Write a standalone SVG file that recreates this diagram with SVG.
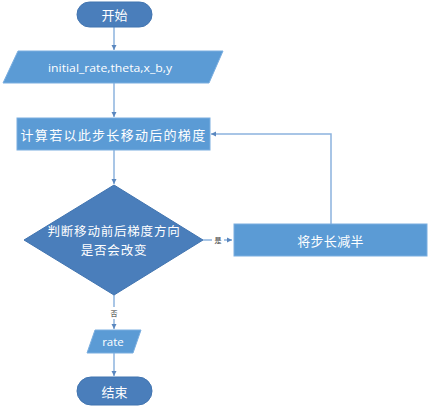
<svg xmlns="http://www.w3.org/2000/svg" width="431" height="409" viewBox="0 0 431 409">
<style>
.dark{fill:#4a7ebb;stroke:#4174b0;stroke-width:1}
.light{fill:#5b9bd5;stroke:#7aaee0;stroke-width:1}
.t{font-family:"Noto Sans CJK SC","Liberation Sans",sans-serif;fill:#ffffff;text-anchor:middle;dominant-baseline:central}
.lat{font-family:"Open Sans","Liberation Sans",sans-serif;fill:#ffffff;text-anchor:middle;dominant-baseline:central}
.c{fill:none;stroke:#8cb3de;stroke-width:1.5}
.lbl{font-family:"Noto Sans CJK SC",sans-serif;font-size:7px;fill:#333333;text-anchor:middle;dominant-baseline:central}
</style>
<defs>
<marker id="ah" markerWidth="6" markerHeight="6" refX="5" refY="3" orient="auto" markerUnits="userSpaceOnUse">
<path d="M0,0.5 L5,3 L0,5.5 z" fill="#5a87bf"/>
</marker>
</defs>
<rect width="431" height="409" fill="#ffffff"/>
<g id="connectors">
<line class="c" x1="114" y1="27" x2="114" y2="50" marker-end="url(#ah)"/>
<line class="c" x1="114" y1="83" x2="114" y2="117" marker-end="url(#ah)"/>
<line class="c" x1="114" y1="150" x2="114" y2="184" marker-end="url(#ah)"/>
<line class="c" x1="203" y1="240" x2="232" y2="240" marker-end="url(#ah)"/>
<polyline class="c" points="331,224 331,134 211,134" marker-end="url(#ah)"/>
<line class="c" x1="114" y1="295" x2="114" y2="329" marker-end="url(#ah)"/>
<line class="c" x1="114" y1="353" x2="114" y2="376" marker-end="url(#ah)"/>
<rect x="212" y="234" width="12" height="12" fill="#ffffff"/>
<text class="lbl" x="218" y="240">是</text>
<rect x="108" y="307" width="12" height="12" fill="#ffffff"/>
<text class="lbl" x="114" y="313">否</text>
</g>
<g id="start">
<rect class="dark" x="77" y="2" width="75" height="25" rx="12.5"/>
<text class="t" x="114.5" y="14.5" font-size="13">开始</text>
</g>
<g id="input">
<polygon class="light" points="18,51 223,51 209,83 3,83"/>
<text class="lat" x="110" y="67" font-size="11.5" textLength="124" lengthAdjust="spacingAndGlyphs">initial_rate,theta,x_b,y</text>
</g>
<g id="compute">
<rect class="light" x="17" y="118" width="193" height="32"/>
<text class="t" x="113.5" y="134" font-size="13" letter-spacing="1.3">计算若以此步长移动后的梯度</text>
</g>
<g id="decision">
<polygon class="dark" points="114,185 203,240 114,295 24,240"/>
<text class="t" x="114" y="230.5" font-size="12.5" letter-spacing="0.8">判断移动前后梯度方向</text>
<text class="t" x="114" y="249.5" font-size="12.5" letter-spacing="0.8">是否会改变</text>
</g>
<g id="half">
<rect class="light" x="234" y="224" width="193" height="32"/>
<text class="t" x="330.5" y="240" font-size="13" letter-spacing="0.3">将步长减半</text>
</g>
<g id="output">
<polygon class="light" points="95,330 141,330 133,353 87,353"/>
<text class="lat" x="113" y="341.5" font-size="11.5">rate</text>
</g>
<g id="end">
<rect class="dark" x="77" y="377" width="75" height="28" rx="14"/>
<text class="t" x="114.5" y="391" font-size="13">结束</text>
</g>
</svg>
